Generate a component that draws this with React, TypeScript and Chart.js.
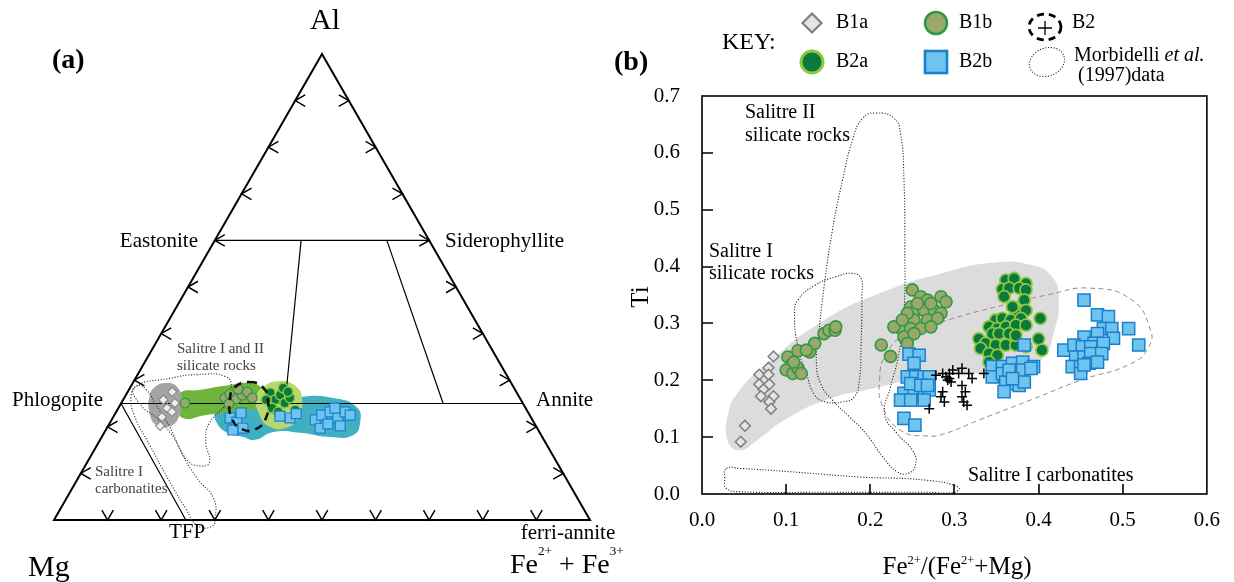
import React, { useEffect, useRef } from 'react';
import { Chart, registerables } from 'chart.js';

Chart.register(...registerables);

const SERIF = '"Liberation Serif", "Times New Roman", Times, serif';
const H = Math.sqrt(3) / 2;

// ================= Panel (a): ternary Al – Mg – (Fe2+ + Fe3+) =================
// every ternary point is an [Al, Fe] fraction pair (Mg = 1 - Al - Fe)
const ternaryTickFractions = [0.1, 0.2, 0.3, 0.4, 0.5, 0.6, 0.7, 0.8, 0.9];
const triangleVertices = [[0, 0], [0, 1], [1, 0]];
const eastoniteSiderophyllite = [[0.6, 0], [0.6, 0.4]];
const phlogopiteAnnite = [[0.25, 0], [0.25, 0.75]];
const divideLineA = [[0.6, 0.161], [0.25, 0.306]];
const divideLineB = [[0.6, 0.321], [0.25, 0.601]];
const tfpLine = [[0.25, 0], [0, 0.246]];

const ternB1a = [[0.275, 0.083], [0.258, 0.075], [0.251, 0.100], [0.240, 0.091], [0.232, 0.104], [0.221, 0.091], [0.202, 0.097]];
const ternB1b = [[0.251, 0.119], [0.262, 0.188], [0.270, 0.193], [0.260, 0.210], [0.268, 0.217], [0.275, 0.223], [0.249, 0.202], [0.262, 0.239], [0.281, 0.203]];
const ternB2a = [[0.273, 0.267], [0.258, 0.284], [0.268, 0.288], [0.251, 0.305], [0.262, 0.309], [0.240, 0.287], [0.283, 0.286], [0.236, 0.332], [0.232, 0.302], [0.275, 0.299], [0.258, 0.267]];
const ternB2b = [[0.219, 0.219], [0.210, 0.236], [0.193, 0.237], [0.230, 0.234], [0.197, 0.254], [0.223, 0.310], [0.219, 0.331], [0.228, 0.338], [0.215, 0.380], [0.225, 0.387], [0.232, 0.399], [0.219, 0.420], [0.232, 0.427], [0.197, 0.398], [0.206, 0.408], [0.202, 0.433], [0.225, 0.440], [0.240, 0.404]];

const ternFieldB1a = [[0.284, 0.045], [0.294, 0.062], [0.284, 0.089], [0.252, 0.112], [0.216, 0.123], [0.200, 0.113], [0.204, 0.088], [0.232, 0.062], [0.264, 0.046]];
const ternFieldB1b = [[0.273, 0.099], [0.279, 0.132], [0.288, 0.175], [0.294, 0.219], [0.283, 0.246], [0.262, 0.261], [0.240, 0.261], [0.234, 0.221], [0.225, 0.169], [0.219, 0.131], [0.247, 0.108]];
const ternFieldB2a = [[0.283, 0.246], [0.298, 0.269], [0.288, 0.306], [0.258, 0.334], [0.219, 0.345], [0.197, 0.332], [0.202, 0.298], [0.232, 0.265], [0.262, 0.246]];
const ternFieldB2b = [[0.232, 0.186], [0.242, 0.202], [0.245, 0.257], [0.264, 0.327], [0.262, 0.390], [0.242, 0.444], [0.208, 0.467], [0.182, 0.467], [0.178, 0.426], [0.187, 0.366], [0.189, 0.315], [0.172, 0.289], [0.178, 0.264], [0.187, 0.230], [0.208, 0.200]];
const ternFieldB2 = [[0.296, 0.216], [0.285, 0.247], [0.258, 0.270], [0.219, 0.286], [0.195, 0.279], [0.195, 0.253], [0.219, 0.222], [0.258, 0.199], [0.285, 0.195]];
const ternSilicateLoop = [[0.284, 0.008], [0.304, 0.064], [0.312, 0.112], [0.308, 0.166], [0.284, 0.189], [0.252, 0.197], [0.208, 0.186], [0.168, 0.199], [0.124, 0.228], [0.116, 0.214], [0.128, 0.185], [0.176, 0.136], [0.216, 0.086], [0.248, 0.037]];
const ternCarbonatiteLoop = [[0.288, 0.012], [0.268, 0.010], [0.224, 0.038], [0.160, 0.099], [0.088, 0.169], [0.024, 0.234], [-0.012, 0.274], [-0.014, 0.301], [0.004, 0.299], [0.048, 0.273], [0.088, 0.224], [0.144, 0.166], [0.200, 0.116], [0.248, 0.066], [0.280, 0.032]];

// ================= Panel (b): Fe2+/(Fe2++Mg) vs Ti =================
const xTickValues = [0, 0.1, 0.2, 0.3, 0.4, 0.5, 0.6];
const yTickValues = [0, 0.1, 0.2, 0.3, 0.4, 0.5, 0.6, 0.7];

const b1aFe = [0.085, 0.079, 0.068, 0.079, 0.068, 0.080, 0.073, 0.085, 0.070, 0.080, 0.082, 0.051, 0.046];
const b1aTi = [0.242, 0.222, 0.210, 0.210, 0.193, 0.193, 0.184, 0.172, 0.172, 0.162, 0.150, 0.120, 0.092];

const b1bFe = [0.102, 0.114, 0.128, 0.134, 0.145, 0.151, 0.158, 0.159, 0.106, 0.100, 0.108, 0.114, 0.118, 0.124, 0.109,
  0.250, 0.260, 0.268, 0.284, 0.290, 0.248, 0.254, 0.264, 0.276, 0.284, 0.244, 0.252, 0.268, 0.280, 0.236, 0.248, 0.260, 0.272, 0.228, 0.240, 0.252, 0.244, 0.213, 0.224, 0.244, 0.256, 0.272, 0.238];
const b1bTi = [0.241, 0.252, 0.250, 0.265, 0.282, 0.288, 0.288, 0.294, 0.227, 0.218, 0.212, 0.221, 0.212, 0.253, 0.232,
  0.359, 0.347, 0.341, 0.347, 0.338, 0.329, 0.323, 0.323, 0.323, 0.318, 0.312, 0.306, 0.306, 0.309, 0.291, 0.291, 0.291, 0.294, 0.294, 0.276, 0.282, 0.265, 0.262, 0.242, 0.318, 0.335, 0.335, 0.306];

const b2aFe = [0.361, 0.371, 0.385, 0.357, 0.365, 0.377, 0.385, 0.383, 0.375, 0.385, 0.349, 0.357, 0.367, 0.379, 0.402, 0.341, 0.351, 0.361, 0.373, 0.385, 0.345, 0.353, 0.365, 0.329, 0.400, 0.337, 0.349, 0.361, 0.373, 0.404, 0.331, 0.341, 0.351, 0.373, 0.385, 0.359, 0.369, 0.341];
const b2aTi = [0.376, 0.379, 0.370, 0.360, 0.362, 0.362, 0.359, 0.341, 0.320, 0.323, 0.306, 0.309, 0.306, 0.309, 0.309, 0.294, 0.291, 0.294, 0.297, 0.297, 0.282, 0.282, 0.282, 0.273, 0.273, 0.265, 0.262, 0.262, 0.262, 0.253, 0.256, 0.247, 0.244, 0.279, 0.259, 0.347, 0.329, 0.232];

const b2bFe = [0.246, 0.258, 0.252, 0.244, 0.254, 0.264, 0.270, 0.240, 0.252, 0.264, 0.270, 0.236, 0.248, 0.264, 0.240, 0.253, 0.248, 0.260, 0.268,
  0.383, 0.345, 0.357, 0.369, 0.381, 0.394, 0.345, 0.357, 0.369, 0.381, 0.391, 0.361, 0.373, 0.377, 0.359, 0.365, 0.383, 0.369,
  0.454, 0.470, 0.483, 0.477, 0.487, 0.507, 0.470, 0.489, 0.454, 0.466, 0.477, 0.430, 0.442, 0.452, 0.462, 0.519, 0.444, 0.454, 0.462, 0.475, 0.440, 0.450, 0.460, 0.470, 0.450, 0.454];
const b2bTi = [0.246, 0.244, 0.230, 0.206, 0.206, 0.206, 0.206, 0.177, 0.174, 0.177, 0.183, 0.165, 0.165, 0.165, 0.133, 0.121, 0.194, 0.191, 0.191,
  0.262, 0.224, 0.224, 0.230, 0.232, 0.224, 0.206, 0.212, 0.212, 0.218, 0.221, 0.197, 0.194, 0.191, 0.180, 0.218, 0.197, 0.203,
  0.341, 0.315, 0.312, 0.291, 0.291, 0.291, 0.282, 0.274, 0.276, 0.265, 0.265, 0.253, 0.262, 0.259, 0.259, 0.262, 0.241, 0.241, 0.247, 0.247, 0.224, 0.224, 0.230, 0.232, 0.212, 0.227];

const b2Fe = [0.278, 0.286, 0.290, 0.294, 0.298, 0.305, 0.309, 0.317, 0.292, 0.296, 0.286, 0.284, 0.288, 0.309, 0.313, 0.309, 0.311, 0.315, 0.270, 0.335, 0.321, 0.294];
const b2Ti = [0.209, 0.212, 0.206, 0.212, 0.218, 0.212, 0.221, 0.212, 0.200, 0.197, 0.180, 0.171, 0.162, 0.191, 0.180, 0.171, 0.162, 0.156, 0.150, 0.212, 0.203, 0.203];

const grayFieldB = [[0.031, 0.141], [0.045, 0.183], [0.078, 0.230], [0.139, 0.300], [0.211, 0.353], [0.292, 0.391], [0.349, 0.407], [0.390, 0.403], [0.416, 0.382], [0.424, 0.341], [0.418, 0.282], [0.406, 0.241], [0.385, 0.224], [0.349, 0.215], [0.268, 0.206], [0.211, 0.188], [0.147, 0.165], [0.098, 0.130], [0.066, 0.095], [0.045, 0.077], [0.031, 0.092]];
const dashedFieldB = [[0.211, 0.200], [0.219, 0.247], [0.244, 0.282], [0.292, 0.306], [0.349, 0.329], [0.410, 0.350], [0.462, 0.362], [0.511, 0.341], [0.533, 0.288], [0.531, 0.259], [0.511, 0.230], [0.450, 0.200], [0.390, 0.165], [0.329, 0.130], [0.288, 0.106], [0.268, 0.102], [0.236, 0.112], [0.215, 0.153]];
const salitreIIsilicate = [[0.207, 0.670], [0.228, 0.661], [0.236, 0.634], [0.240, 0.552], [0.241, 0.435], [0.240, 0.318], [0.234, 0.247], [0.224, 0.188], [0.217, 0.141], [0.232, 0.106], [0.250, 0.077], [0.254, 0.053], [0.246, 0.037], [0.232, 0.039], [0.215, 0.065], [0.195, 0.106], [0.175, 0.136], [0.155, 0.165], [0.141, 0.194], [0.136, 0.230], [0.138, 0.271], [0.145, 0.364], [0.155, 0.464], [0.167, 0.552], [0.179, 0.623], [0.191, 0.661]];
const salitreIsilicate = [[0.110, 0.318], [0.114, 0.341], [0.134, 0.367], [0.159, 0.382], [0.179, 0.388], [0.189, 0.379], [0.190, 0.347], [0.189, 0.259], [0.187, 0.200], [0.181, 0.171], [0.167, 0.162], [0.147, 0.162], [0.134, 0.174], [0.124, 0.212], [0.114, 0.259]];
const salitreIcarbonatite = [[0.029, 0.045], [0.045, 0.045], [0.106, 0.039], [0.187, 0.030], [0.268, 0.024], [0.305, 0.012], [0.300, 0.003], [0.268, 0.003], [0.147, 0.003], [0.045, 0.004], [0.029, 0.010], [0.027, 0.027]];

// ================= styles =================
const STY = {
  b1a: { fill: '#e4e4e4', line: '#7f7f7f' },
  b1b: { fill: '#9ca86b', line: '#2e9a45' },
  b2a: { fill: '#0a7a3c', line: '#8dc63f' },
  b2b: { fill: '#6fc4ef', line: '#1b80cb' },
};
const DOTS = [1.1, 1.7];

const tern = (pts: number[][]) => pts.map(([al, fe]) => ({ x: fe + al / 2, y: al * H }));
const pairs = (pts: number[][]) => pts.map(([x, y]) => ({ x, y }));
const zip = (xs: number[], ys: number[]) => xs.map((x, i) => ({ x, y: ys[i] }));

// closes the flagged line datasets into smooth loops
const loopPlugin = {
  id: 'closedLoops',
  afterDatasetsUpdate(chart: any) {
    chart.data.datasets.forEach((ds: any, i: number) => {
      if (!ds.closed) return;
      const line = chart.getDatasetMeta(i).dataset;
      if (line) {
        line._loop = true;
        line._fullLoop = true;
        line._segments = undefined;
        line._pointsUpdated = false;
      }
    });
  },
};

type Part = { t: string; sup?: boolean; it?: boolean };
type TextItem = { parts: string | Part[]; x: number; y: number; size: number; align?: string; baseline?: string; color?: string; bold?: boolean; rotate?: number; supScale?: number; supShift?: number };

function drawText(ctx: CanvasRenderingContext2D, item: TextItem, ox: number) {
  const parts: Part[] = typeof item.parts === 'string' ? [{ t: item.parts }] : item.parts;
  const size = item.size;
  const ss = item.supScale || 0.5;
  const sh = item.supShift == null ? 0.35 : item.supShift;
  ctx.save();
  ctx.translate(item.x - ox, item.y);
  if (item.rotate) ctx.rotate(item.rotate);
  ctx.fillStyle = item.color || '#000';
  ctx.textBaseline = (item.baseline || 'middle') as CanvasTextBaseline;
  ctx.textAlign = 'left';
  const fonts = parts.map((p) => `${p.it ? 'italic ' : ''}${item.bold ? 'bold ' : ''}${p.sup ? size * ss : size}px ${SERIF}`);
  const widths = parts.map((p, i) => { ctx.font = fonts[i]; return ctx.measureText(p.t).width; });
  const total = widths.reduce((s, w) => s + w, 0);
  let x = item.align === 'center' ? -total / 2 : item.align === 'right' ? -total : 0;
  parts.forEach((p, i) => {
    ctx.font = fonts[i];
    ctx.fillText(p.t, x, p.sup ? -size * sh : 0);
    x += widths[i];
  });
  ctx.restore();
}

const textPlugin = (id: string, items: TextItem[], ox: number) => ({
  id,
  afterDraw(chart: any) { items.forEach((it) => drawText(chart.ctx, it, ox)); },
});

// ---------- texts (page coordinates) ----------
const ternaryTexts: TextItem[] = [
  { parts: 'Al', x: 325, y: 29, size: 30, align: 'center', baseline: 'alphabetic' },
  { parts: '(a)', x: 52, y: 68, size: 28, bold: true, baseline: 'alphabetic' },
  { parts: 'Eastonite', x: 198, y: 241, size: 21, align: 'right' },
  { parts: 'Siderophyllite', x: 445, y: 241, size: 21 },
  { parts: 'Phlogopite', x: 103, y: 400, size: 21, align: 'right' },
  { parts: 'Annite', x: 536, y: 400, size: 21 },
  { parts: 'Salitre I and II', x: 177, y: 349, size: 15, color: '#444' },
  { parts: 'silicate rocks', x: 177, y: 366, size: 15, color: '#444' },
  { parts: 'Salitre I', x: 95, y: 472, size: 15, color: '#444' },
  { parts: 'carbonatites', x: 95, y: 489, size: 15, color: '#444' },
  { parts: 'TFP', x: 187, y: 532, size: 21, align: 'center' },
  { parts: 'ferri-annite', x: 568, y: 533, size: 21, align: 'center' },
  { parts: 'Mg', x: 28, y: 576, size: 30, baseline: 'alphabetic' },
  { parts: [{ t: 'Fe' }, { t: '2+', sup: true }, { t: ' + Fe' }, { t: '3+', sup: true }], x: 510, y: 573, size: 28, baseline: 'alphabetic', supScale: 0.47, supShift: 0.63 },
];

const scatterTexts: TextItem[] = [
  { parts: '(b)', x: 614, y: 70, size: 28, bold: true, baseline: 'alphabetic' },
  { parts: 'KEY:', x: 722, y: 43, size: 24 },
  { parts: 'B1a', x: 836, y: 23, size: 20 },
  { parts: 'B1b', x: 959, y: 23, size: 20 },
  { parts: 'B2', x: 1072, y: 23, size: 20 },
  { parts: 'B2a', x: 836, y: 62, size: 20 },
  { parts: 'B2b', x: 959, y: 62, size: 20 },
  { parts: [{ t: 'Morbidelli ' }, { t: 'et al.', it: true }], x: 1074, y: 56, size: 20 },
  { parts: ' (1997)data', x: 1073, y: 76, size: 20 },
  { parts: 'Salitre II', x: 745, y: 113, size: 20 },
  { parts: 'silicate rocks', x: 745, y: 136, size: 20 },
  { parts: 'Salitre I', x: 709, y: 252, size: 20 },
  { parts: 'silicate rocks', x: 709, y: 274, size: 20 },
  { parts: 'Salitre I carbonatites', x: 968, y: 476, size: 20 },
  { parts: 'Ti', x: 641, y: 297, size: 25, align: 'center', rotate: -Math.PI / 2 },
  { parts: [{ t: 'Fe' }, { t: '2+', sup: true }, { t: '/(Fe' }, { t: '2+', sup: true }, { t: '+Mg)' }], x: 957, y: 574, size: 25, align: 'center', baseline: 'alphabetic', supScale: 0.5, supShift: 0.42 },
];

// ---------- ternary axis arrows ----------
const ternaryAxesPlugin = {
  id: 'ternaryAxes',
  afterDatasetsDraw(chart: any) {
    const { ctx, scales } = chart;
    const P = (al: number, fe: number) => [scales.x.getPixelForValue(fe + al / 2), scales.y.getPixelForValue(al * H)];
    const arm = 11.5;
    const s = Math.sin(Math.PI / 6) * arm;
    const c = Math.cos(Math.PI / 6) * arm;
    ctx.save();
    ctx.strokeStyle = '#000';
    ctx.lineWidth = 1.5;
    ctx.beginPath();
    ternaryTickFractions.forEach((t) => {
      const [bx, by] = P(0, t);
      ctx.moveTo(bx - s, by - c); ctx.lineTo(bx, by); ctx.lineTo(bx + s, by - c);
      const [lx, ly] = P(t, 0);
      ctx.moveTo(lx + c, ly - s); ctx.lineTo(lx, ly); ctx.lineTo(lx + c, ly + s);
      const [rx, ry] = P(t, 1 - t);
      ctx.moveTo(rx - c, ry - s); ctx.lineTo(rx, ry); ctx.lineTo(rx - c, ry + s);
    });
    ctx.stroke();
    ctx.restore();
  },
};

// ---------- (b) frame with inward ticks ----------
const framePlugin = {
  id: 'frameTicks',
  afterDraw(chart: any) {
    const { ctx, chartArea: a, scales } = chart;
    ctx.save();
    ctx.strokeStyle = '#000';
    ctx.lineWidth = 1.6;
    ctx.strokeRect(a.left, a.top, a.right - a.left, a.bottom - a.top);
    ctx.beginPath();
    xTickValues.slice(1, -1).forEach((v) => {
      const px = Math.round(scales.x.getPixelForValue(v));
      ctx.moveTo(px, a.bottom); ctx.lineTo(px, a.bottom - 10);
    });
    yTickValues.slice(1, -1).forEach((v) => {
      const py = Math.round(scales.y.getPixelForValue(v));
      ctx.moveTo(a.left, py); ctx.lineTo(a.left + 11, py);
    });
    ctx.stroke();
    ctx.restore();
  },
};

// ---------- (b) key ----------
const keyPlugin = {
  id: 'keyLegend',
  afterDraw(chart: any) {
    const ctx: CanvasRenderingContext2D = chart.ctx;
    const ox = 600;
    ctx.save();
    // B1a diamond
    let cx = 812 - ox, cy = 23;
    const r = 9.5;
    ctx.beginPath();
    ctx.moveTo(cx, cy - r); ctx.lineTo(cx + r, cy); ctx.lineTo(cx, cy + r); ctx.lineTo(cx - r, cy); ctx.closePath();
    ctx.fillStyle = STY.b1a.fill; ctx.fill();
    ctx.lineWidth = 2.2; ctx.strokeStyle = STY.b1a.line; ctx.stroke();
    // B1b circle
    ctx.beginPath(); ctx.arc(936 - ox, 23, 11, 0, Math.PI * 2);
    ctx.fillStyle = STY.b1b.fill; ctx.fill();
    ctx.lineWidth = 2.6; ctx.strokeStyle = STY.b1b.line; ctx.stroke();
    // B2a circle
    ctx.beginPath(); ctx.arc(812 - ox, 62, 11, 0, Math.PI * 2);
    ctx.fillStyle = STY.b2a.fill; ctx.fill();
    ctx.lineWidth = 3; ctx.strokeStyle = STY.b2a.line; ctx.stroke();
    // B2b square
    ctx.fillStyle = STY.b2b.fill; ctx.fillRect(936 - ox - 11, 62 - 11, 22, 22);
    ctx.lineWidth = 2.6; ctx.strokeStyle = STY.b2b.line; ctx.strokeRect(936 - ox - 11, 62 - 11, 22, 22);
    // B2 dashed field with cross
    cx = 1045 - ox; cy = 27;
    ctx.beginPath(); ctx.ellipse(cx, cy, 16, 13, 0, 0, Math.PI * 2);
    ctx.setLineDash([7, 5]); ctx.lineWidth = 2.8; ctx.strokeStyle = '#000'; ctx.stroke();
    ctx.setLineDash([]);
    ctx.beginPath(); ctx.lineWidth = 1.3;
    ctx.moveTo(cx - 7, cy + 1); ctx.lineTo(cx + 7, cy + 1); ctx.moveTo(cx, cy - 6); ctx.lineTo(cx, cy + 8); ctx.stroke();
    // Morbidelli dotted outline
    ctx.beginPath(); ctx.ellipse(1047 - ox, 62, 18, 14, -0.35, 0, Math.PI * 2);
    ctx.setLineDash(DOTS); ctx.lineWidth = 1.1; ctx.strokeStyle = '#222'; ctx.stroke();
    ctx.restore();
  },
};

// ---------- dataset helpers ----------
const straight = (data: any[], width: number, extra: any = {}) => ({ data, showLine: true, pointRadius: 0, borderColor: '#000', borderWidth: width, tension: 0, fill: false, clip: false, order: 7, ...extra });
const field = (data: any[], color: string, order: number) => ({ data, showLine: true, closed: true, spanGaps: true, tension: 0.5, capBezierPoints: false, pointRadius: 0, borderWidth: 0, borderColor: 'rgba(0,0,0,0)', fill: 'shape', backgroundColor: color, clip: false, order });
const outline = (data: any[], dash: number[], color: string, width: number, order: number) => ({ data, showLine: true, closed: true, spanGaps: true, tension: 0.5, capBezierPoints: false, pointRadius: 0, borderWidth: width, borderColor: color, borderDash: dash, fill: false, clip: false, order });
const marks = (data: any[], pointStyle: string, radius: number, sty: { fill: string; line: string }, width: number, order: number) => ({ data, showLine: false, pointStyle, pointRadius: radius, backgroundColor: sty.fill, borderColor: sty.line, borderWidth: width, clip: false, order });

function ternaryConfig(): any {
  return {
    type: 'scatter',
    data: {
      datasets: [
        straight(tern(triangleVertices), 2, { closed: true, spanGaps: true }),
        straight(tern(eastoniteSiderophyllite), 1.2),
        straight(tern(phlogopiteAnnite), 1.2),
        straight(tern(divideLineA), 1.2),
        straight(tern(divideLineB), 1.2),
        straight(tern(tfpLine), 1.2),
        field(tern(ternFieldB2b), '#3eb0c2', 13),
        field(tern(ternFieldB1b), '#6eb43c', 12),
        field(tern(ternFieldB2a), '#b5d96c', 11),
        field(tern(ternFieldB1a), '#a4a4a4', 10),
        outline(tern(ternSilicateLoop), DOTS, '#333', 1.1, 6),
        outline(tern(ternCarbonatiteLoop), DOTS, '#333', 1.1, 6),
        marks(tern(ternB1a), 'rectRot', 4.6, { fill: '#eeeeee', line: '#8a8a8a' }, 1.2, 5),
        marks(tern(ternB1b), 'circle', 4.8, STY.b1b, 1.3, 4),
        marks(tern(ternB2a), 'circle', 4.8, STY.b2a, 1.5, 3),
        marks(tern(ternB2b), 'rect', 7, STY.b2b, 1.2, 2),
        outline(tern(ternFieldB2), [8, 6], '#111', 2.6, 1),
      ],
    },
    options: {
      animation: false,
      responsive: false,
      events: [],
      layout: { padding: { left: 54, right: 70, top: 54, bottom: 62 } },
      scales: {
        x: { type: 'linear', min: 0, max: 1, display: false },
        y: { type: 'linear', min: 0, max: H, display: false },
      },
      plugins: { legend: { display: false }, tooltip: { enabled: false } },
    },
    plugins: [loopPlugin, ternaryAxesPlugin, textPlugin('ternaryTexts', ternaryTexts, 0)],
  };
}

function scatterConfig(): any {
  const tickFont = { family: SERIF, size: 21 };
  return {
    type: 'scatter',
    data: {
      datasets: [
        field(pairs(grayFieldB), '#dcdcdc', 9),
        outline(pairs(dashedFieldB), [5, 3.5], '#8c8c8c', 1, 8),
        outline(pairs(salitreIIsilicate), DOTS, '#222', 1.1, 7),
        outline(pairs(salitreIsilicate), DOTS, '#222', 1.1, 7),
        outline(pairs(salitreIcarbonatite), DOTS, '#222', 1.1, 7),
        marks(zip(b1aFe, b1aTi), 'rectRot', 5.4, STY.b1a, 1.5, 5),
        marks(zip(b1bFe, b1bTi), 'circle', 6, STY.b1b, 1.6, 4),
        marks(zip(b2aFe, b2aTi), 'circle', 6, STY.b2a, 1.8, 3),
        marks(zip(b2bFe, b2bTi), 'rect', 8.6, STY.b2b, 1.5, 2),
        { data: zip(b2Fe, b2Ti), showLine: false, pointStyle: 'cross', pointRadius: 5, borderColor: '#000', borderWidth: 1.5, clip: false, order: 1 },
      ],
    },
    options: {
      animation: false,
      responsive: false,
      events: [],
      layout: { padding: { left: 0, right: 21, top: 96, bottom: 0 } },
      scales: {
        x: {
          type: 'linear', min: 0, max: 0.6,
          afterBuildTicks: (s: any) => { s.ticks = xTickValues.map((value) => ({ value })); },
          afterFit: (s: any) => { s.height = 88; },
          ticks: { font: tickFont, color: '#000', padding: 14, maxRotation: 0, autoSkip: false, callback: (v: any) => Number(v).toFixed(1) },
          grid: { display: false, drawTicks: false },
          border: { display: false },
        },
        y: {
          type: 'linear', min: 0, max: 0.7,
          afterBuildTicks: (s: any) => { s.ticks = yTickValues.map((value) => ({ value })); },
          afterFit: (s: any) => { s.width = 102; },
          ticks: { font: tickFont, color: '#000', padding: 22, autoSkip: false, callback: (v: any) => Number(v).toFixed(1) },
          grid: { display: false, drawTicks: false },
          border: { display: false },
        },
      },
      plugins: { legend: { display: false }, tooltip: { enabled: false } },
    },
    plugins: [loopPlugin, framePlugin, keyPlugin, textPlugin('scatterTexts', scatterTexts, 600)],
  };
}

export default function App() {
  const leftRef = useRef<HTMLCanvasElement>(null);
  const rightRef = useRef<HTMLCanvasElement>(null);
  useEffect(() => {
    const a = new Chart(leftRef.current as HTMLCanvasElement, ternaryConfig());
    const b = new Chart(rightRef.current as HTMLCanvasElement, scatterConfig());
    return () => { a.destroy(); b.destroy(); };
  }, []);
  return (
    <div style={{ position: 'absolute', left: 0, top: 0, width: 1234, height: 582, background: '#fff', overflow: 'hidden' }}>
      <canvas ref={leftRef} width={660} height={582} style={{ position: 'absolute', left: 0, top: 0 }} />
      <canvas ref={rightRef} width={634} height={582} style={{ position: 'absolute', left: 600, top: 0 }} />
    </div>
  );
}
